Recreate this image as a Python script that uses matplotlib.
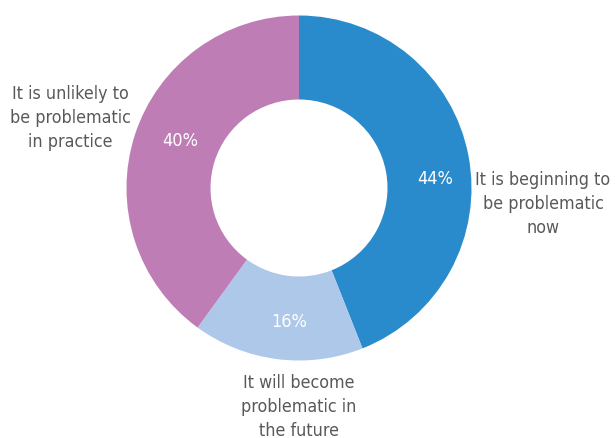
import matplotlib.pyplot as plt
from matplotlib import font_manager

labels = ['It is beginning to\nbe problematic\nnow',
          'It will become\nproblematic in\nthe future',
          'It is unlikely to\nbe problematic\nin practice']
shares = [44, 16, 40]
colors = ['#2a8bcc', '#aec8e9', '#bf7db5']

# prefer an upright narrow face for the labels
narrow = [f for f in font_manager.fontManager.ttflist
          if ('Narrow' in f.name or 'Condensed' in f.name
              or 'condensed' in str(f.stretch))
          and f.style == 'normal' and f.weight in (400, 'normal')]
if narrow:
    fp = font_manager.FontProperties(fname=narrow[0].fname)
else:
    fp = font_manager.FontProperties(family='DejaVu Sans', stretch='condensed')

fig = plt.figure(figsize=(6.16, 4.39), dpi=100)
ax = fig.add_axes([0, 0, 1, 1])

cx, cy, r = 299, 250, 172.5
wedges, _, pcts = ax.pie(shares, colors=colors, startangle=90, counterclock=False,
                         center=(cx, cy), radius=r, frame=True,
                         wedgeprops=dict(width=84, linewidth=0),
                         autopct='%d%%', pctdistance=0.77,
                         textprops=dict(color='white'))
# nudge the percentage labels a little off the wedge midlines
pct_pos = [(435, 260), (289, 117), (180, 298)]
for t, pos in zip(pcts, pct_pos):
    t.set_fontproperties(fp)
    t.set_fontsize(13)
    t.set_position(pos)
ax.set_xlim(0, 616)
ax.set_ylim(0, 439)
ax.set_aspect('equal')
ax.axis('off')

# category labels around the ring
label_pos = [(543, 235), (299, 32), (70, 321)]
for text, (x, y) in zip(labels, label_pos):
    t = ax.text(x, y, text, ha='center', va='center',
                color='#595959', linespacing=1.4)
    t.set_fontproperties(fp)
    t.set_fontsize(12.8)

fig.savefig('out.png', dpi=100)
